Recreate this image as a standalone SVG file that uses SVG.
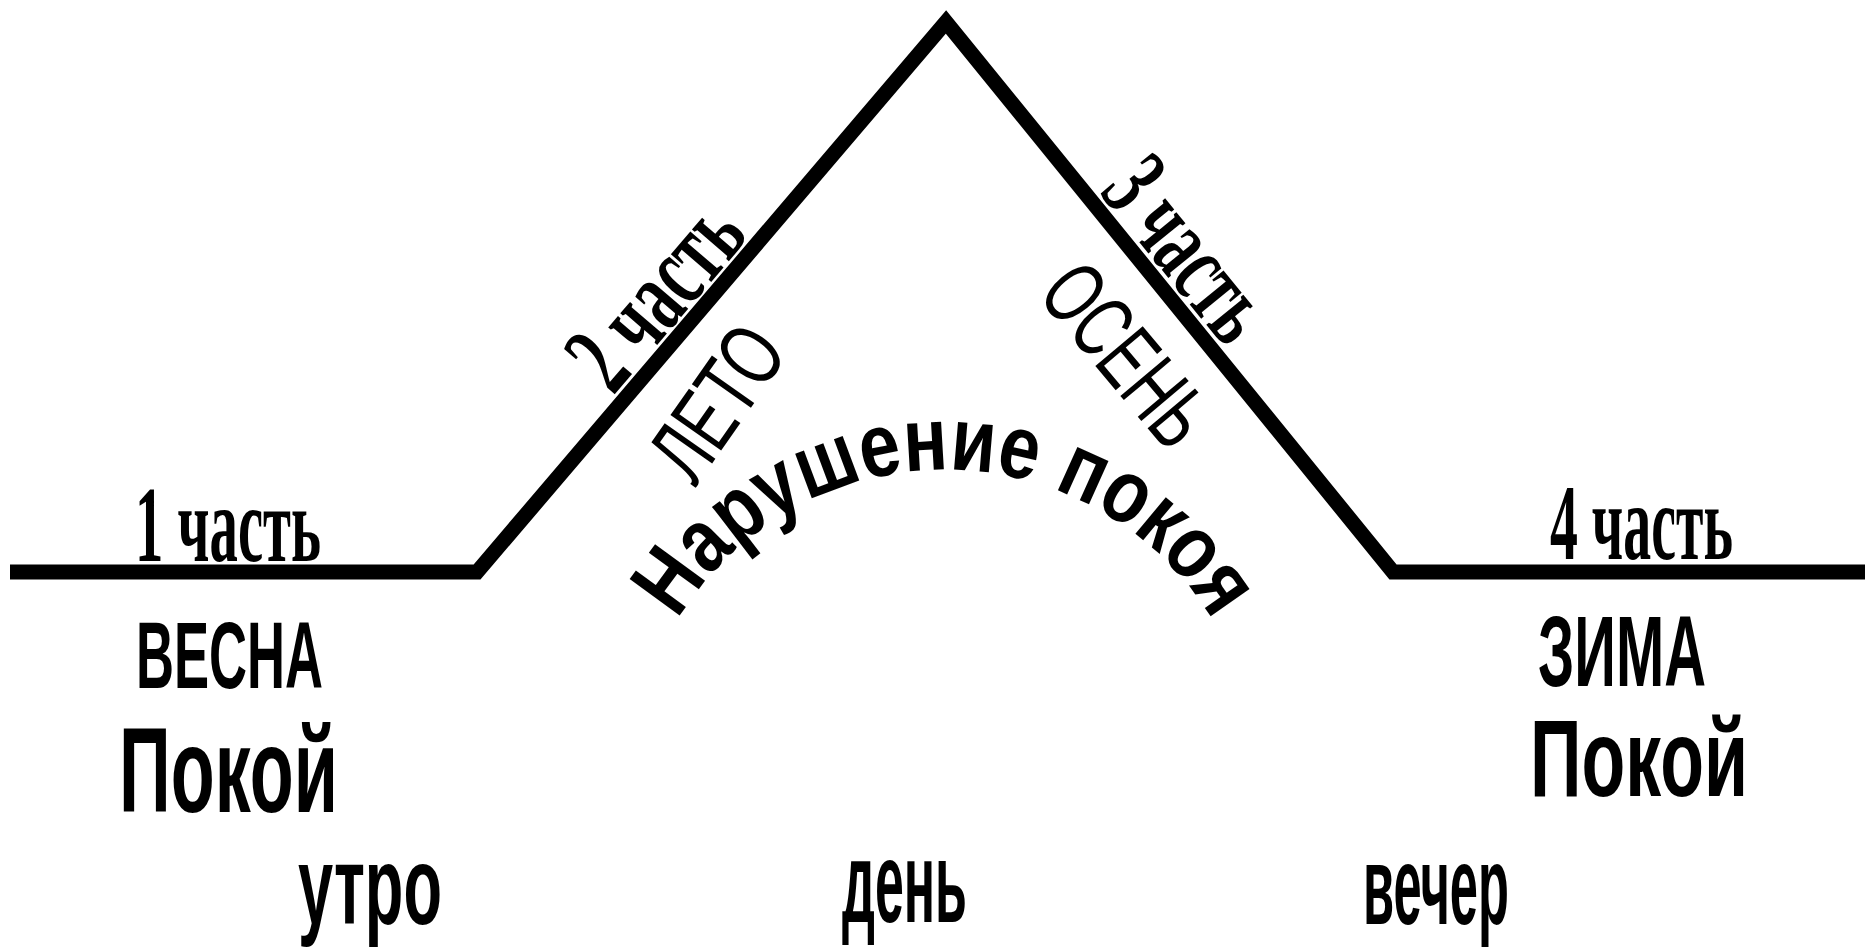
<svg xmlns="http://www.w3.org/2000/svg" width="1870" height="952" viewBox="0 0 1870 952">
<style>
.ser{font-family:"Liberation Serif","Times New Roman",serif;font-weight:bold;fill:#000}
.sans{font-family:"Liberation Sans",Arial,sans-serif;font-weight:bold;fill:#000}
.thin{font-family:"Liberation Sans",Arial,sans-serif;font-weight:normal;fill:#000}
.line{fill:none;stroke:#000;stroke-width:15;stroke-linejoin:miter}
</style>
<defs>
<path id="arc" d="M 677.6 620 A 313 313 0 0 1 1212.4 620"/>
</defs>
<rect width="1870" height="952" fill="#fff"/>
<g id="connectors">
<polyline class="line" points="10,572 477,572 946,22 1393,572 1865,572"/>
</g>
<g id="part1">
<text class="ser" x="135" y="561" font-size="108" textLength="186" lengthAdjust="spacingAndGlyphs">1 часть</text>
<text class="sans" x="136" y="688" font-size="95" textLength="187" lengthAdjust="spacingAndGlyphs">ВЕСНА</text>
<text class="sans" x="119" y="812" font-size="120" textLength="219" lengthAdjust="spacingAndGlyphs">Покой</text>
</g>
<g id="part2">
<text class="ser" transform="translate(477,572) rotate(-49.4)" x="222" y="-11" font-size="106" textLength="210" lengthAdjust="spacingAndGlyphs">2 часть</text>
<text class="thin" transform="translate(716,402) rotate(-55)" x="0" y="32" text-anchor="middle" font-size="90" textLength="165" lengthAdjust="spacingAndGlyphs">ЛЕТО</text>
</g>
<g id="part3">
<text class="ser" transform="translate(946,22) rotate(50.9)" x="228" y="-11" font-size="104" textLength="202" lengthAdjust="spacingAndGlyphs">3 часть</text>
<text class="thin" transform="translate(1127,354) rotate(50)" x="0" y="32" text-anchor="middle" font-size="90" textLength="207" lengthAdjust="spacingAndGlyphs">ОСЕНЬ</text>
</g>
<g id="arc-label">
<text class="sans" font-size="90"><textPath href="#arc" textLength="642" lengthAdjust="spacingAndGlyphs">Нарушение покоя</textPath></text>
</g>
<g id="part4">
<text class="ser" x="1550" y="559" font-size="108" textLength="183" lengthAdjust="spacingAndGlyphs">4 часть</text>
<text class="sans" x="1538" y="686" font-size="100" textLength="168" lengthAdjust="spacingAndGlyphs">ЗИМА</text>
<text class="sans" x="1530" y="796" font-size="110" textLength="218" lengthAdjust="spacingAndGlyphs">Покой</text>
</g>
<g id="times">
<text class="sans" x="298" y="924" font-size="112" textLength="144" lengthAdjust="spacingAndGlyphs">утро</text>
<text class="sans" x="842" y="922" font-size="115" textLength="125" lengthAdjust="spacingAndGlyphs">день</text>
<text class="sans" x="1363" y="924" font-size="112" textLength="146" lengthAdjust="spacingAndGlyphs">вечер</text>
</g>
</svg>
